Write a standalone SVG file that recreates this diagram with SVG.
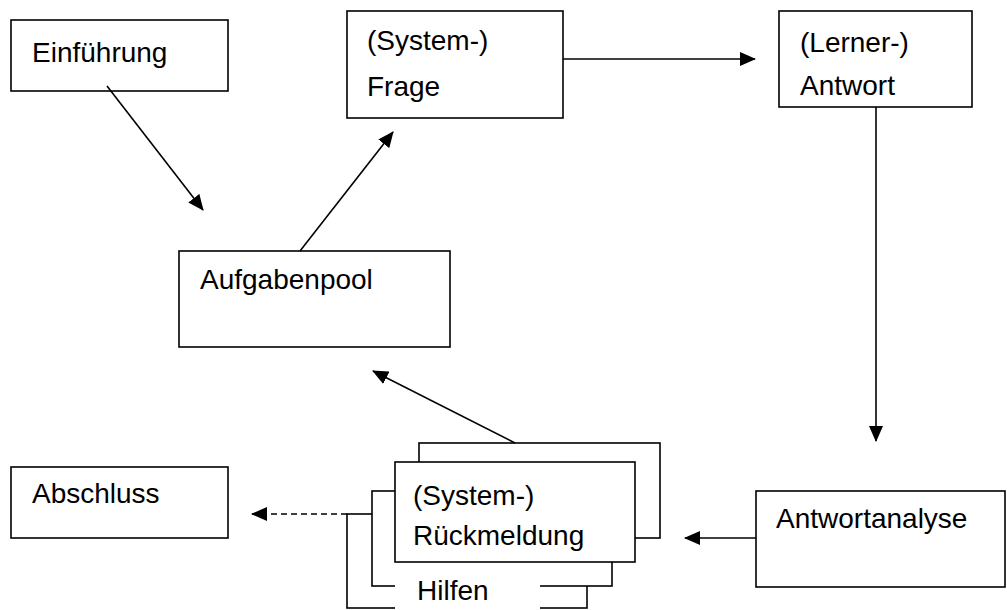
<svg xmlns="http://www.w3.org/2000/svg" width="1007" height="610" viewBox="0 0 1007 610">
<style>
.box{fill:#fff;stroke:#000;stroke-width:1.6}
.t{font-family:"Liberation Sans",Arial,sans-serif;font-size:28px;fill:#000}
.c{fill:none;stroke:#000;stroke-width:1.6}
.d{fill:none;stroke:#000;stroke-width:1.6;stroke-dasharray:6 4}
</style>
<defs>
<marker id="ah" markerUnits="userSpaceOnUse" markerWidth="16" markerHeight="14" refX="15" refY="7" orient="auto" viewBox="0 0 16 14">
<path d="M0,0 L16,7 L0,14 z" fill="#000"/>
</marker>
</defs>
<rect width="1007" height="610" fill="#fff"/>
<g id="einfuehrung">
<rect class="box" x="11" y="20" width="217" height="71"/>
<text class="t" x="32" y="62">Einführung</text>
</g>
<g id="frage">
<rect class="box" x="347" y="11" width="216" height="107"/>
<text class="t" x="367" y="50">(System-)</text>
<text class="t" x="367" y="96">Frage</text>
</g>
<g id="antwort">
<rect class="box" x="779" y="11" width="193" height="96"/>
<text class="t" x="800" y="52">(Lerner-)</text>
<text class="t" x="800" y="95">Antwort</text>
</g>
<g id="aufgabenpool">
<rect class="box" x="179" y="251" width="271" height="96"/>
<text class="t" x="200" y="289">Aufgabenpool</text>
</g>
<g id="abschluss">
<rect class="box" x="11" y="467" width="217" height="71"/>
<text class="t" x="32" y="503">Abschluss</text>
</g>
<g id="antwortanalyse">
<rect class="box" x="756" y="491" width="249" height="96"/>
<text class="t" x="776" y="528">Antwortanalyse</text>
</g>
<g id="rueckmeldung">
<rect class="box" x="347" y="514" width="240" height="94"/>
<rect class="box" x="372" y="491" width="240" height="95"/>
<rect class="box" x="419" y="443" width="241" height="95"/>
<rect class="box" x="395" y="462" width="240" height="100"/>
<text class="t" x="413" y="505">(System-)</text>
<text class="t" x="413" y="545">Rückmeldung</text>
</g>
<g id="hilfen">
<rect x="395" y="563" width="145" height="47" fill="#fff"/>
<text class="t" x="417" y="600">Hilfen</text>
</g>
<g id="connectors">
<line class="c" x1="107" y1="86" x2="203" y2="210" marker-end="url(#ah)"/>
<line class="c" x1="300" y1="251" x2="393" y2="132" marker-end="url(#ah)"/>
<line class="c" x1="563" y1="59" x2="755" y2="59" marker-end="url(#ah)"/>
<line class="c" x1="876" y1="107" x2="876" y2="441" marker-end="url(#ah)"/>
<line class="c" x1="756" y1="538" x2="685" y2="538" marker-end="url(#ah)"/>
<line class="c" x1="515" y1="443" x2="373" y2="371" marker-end="url(#ah)"/>
<line class="d" x1="347" y1="514" x2="252" y2="514" marker-end="url(#ah)"/>
</g>
</svg>
